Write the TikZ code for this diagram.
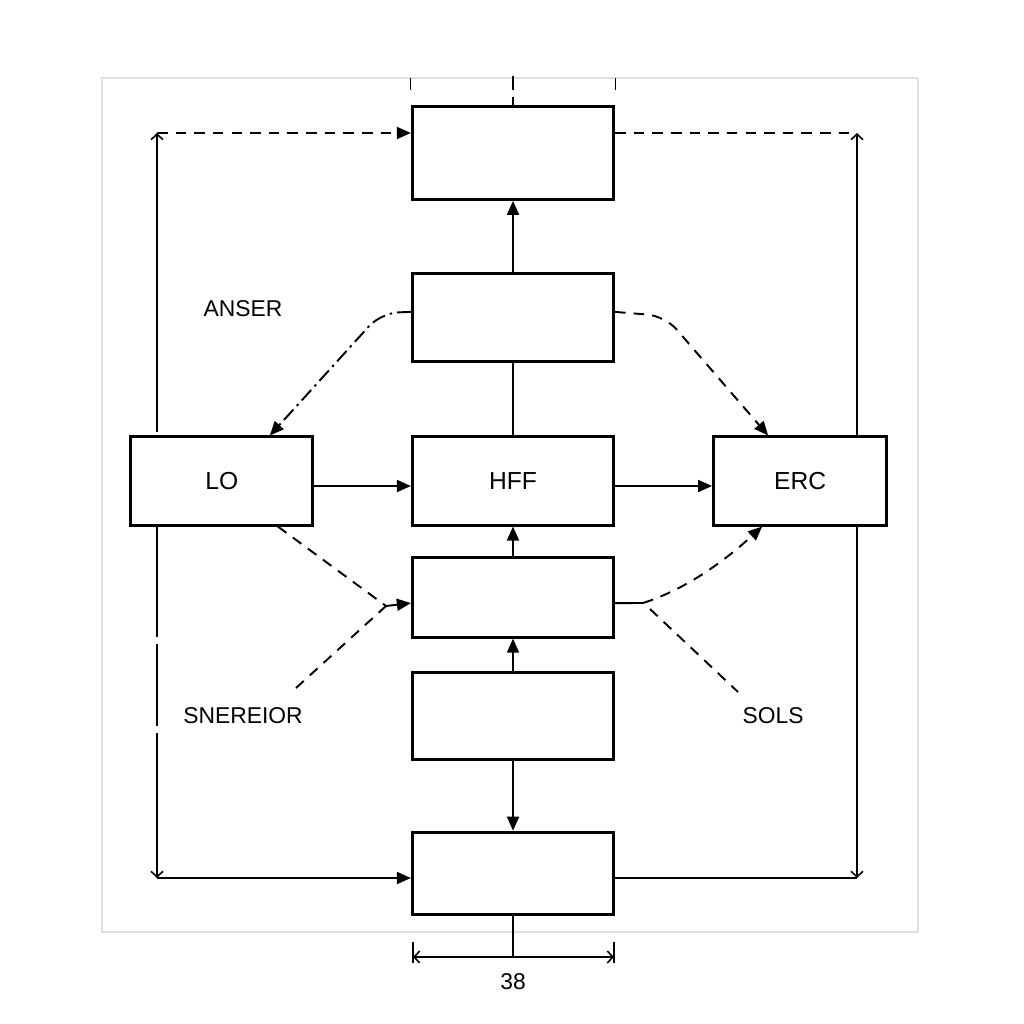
\documentclass[tikz,border=0pt]{standalone}
\usepackage{fontspec}
\setmainfont{Liberation Sans}
\usetikzlibrary{arrows.meta, positioning}
\tikzstyle{block}=[draw,fill=white,rectangle,line width=0.85pt,minimum width=2.01cm,minimum height=0.88cm,inner sep=0pt]
\tikzstyle{every node}=[font=\fontsize{7}{8}\selectfont]
\tikzstyle{lbl}=[font=\fontsize{6.5}{8}\selectfont]
\tikzstyle{conn}=[line width=0.55pt]
\tikzstyle{dsh}=[conn,dash pattern=on 3pt off 2.3pt]
\tikzstyle{dimline}=[line width=0.45pt,>={Straight Barb[length=1.6pt,width=3.4pt]}]

\begin{document}
\begin{tikzpicture}[x=0.01cm,y=-0.01cm,>={Triangle[length=4pt,width=3.4pt]}]
    \useasboundingbox (0,0) rectangle (1024,1024);
    \draw[gray!25,line width=0.4pt] (102,78) rectangle (918,932);
    % outer loop
    \coordinate (lt) at (157,133);
    \coordinate (lb) at (157,878);
    \coordinate (rt) at (857,133);
    \coordinate (rb) at (857,878);
    \draw[dimline,<->,dash pattern=on 2.97cm off 0.1cm on 1.95cm off 0.07cm on 0.82cm off 0.07cm on 1.6cm] (lt) -- (lb);
    \draw[dimline,<->] (rt) -- (rb);
    % blocks
    \node[block] (hff) at (513,481) {HFF};
    \node[block, above of=hff, node distance=1.63cm] (up) {};
    \node[block, above of=up, node distance=1.65cm, minimum height=0.93cm] (top) {};
    \node[block, left of=hff, node distance=2.91cm, minimum width=1.82cm] (lo) {LO};
    \node[block, right of=hff, node distance=2.87cm, minimum width=1.73cm] (erc) {ERC};
    \node[block, below of=hff, node distance=1.16cm, minimum height=0.80cm] (mid) {};
    \node[block, below of=mid, node distance=1.19cm, minimum height=0.87cm] (low) {};
    \node[block, below of=low, node distance=1.57cm, minimum height=0.82cm] (bot) {};
    \node[lbl] (anser) at (243,309) {ANSER};
    \node[lbl] (snr) at (243,716) {SNEREIOR};
    \node[lbl] (sols) at (773,716) {SOLS};
    \node[lbl] (dim) at (513,982) {38};
    % top ticks
    \draw[line width=0.3pt] (top.north west) ++(0,-15) -- ++(0,-12);
    \draw[line width=0.3pt] (top.north east) ++(0,-15) -- ++(0,-12);
    \draw[conn,dash pattern=on 0.08cm off 0.07cm on 0.2cm] (top.north) -- ++(0,-29);
    % loop connectors
    \draw[dsh,->] (lt) -- (lt -| top.west);
    \draw[dsh] (rt -| top.east) -- (rt);
    \draw[conn,->] (lb) -- (lb -| bot.west);
    \draw[conn] (lb -| bot.east) -- (rb);
    % main column
    \draw[conn,->] (up) -- (top);
    \draw[conn] (hff) -- (up);
    \draw[conn,->] (mid) -- (hff);
    \draw[conn,->] (low) -- (mid);
    \draw[conn,->] (low) -- (bot);
    \draw[conn,->] ([yshift=-.05cm]lo.east) -- ([yshift=-.05cm]hff.west);
    \draw[conn,->] ([yshift=-.05cm]hff.east) -- ([yshift=-.05cm]erc.west);
    % dashed links
    \draw[conn,dash pattern=on 4pt off 1.4pt on 0.7pt off 1.4pt,rounded corners=5pt,->] ([yshift=.06cm]up.west) -- (381,313) -- ([xshift=.48cm]lo.north);
    \draw[dsh,rounded corners=5pt,->] ([yshift=.06cm]up.east) -- (665,316) -- ([xshift=-.32cm]erc.north);
    \coordinate (mj) at (386,606);
    \coordinate (sw) at (296,688);
    \draw[dsh] ([xshift=.56cm]lo.south) -- (mj);
    \draw[dsh] (sw) -- (mj);
    \draw[conn,->] (mj) -- ([yshift=-.06cm]mid.west);
    \coordinate (mr) at (643,603);
    \coordinate (ms) at (650,609);
    \coordinate (se) at (738,692);
    \draw[conn] ([yshift=-.06cm]mid.east) -- (mr);
    \draw[dsh,->] (mr) .. controls (690,588) and (730,556) .. ([xshift=-.38cm]erc.south);
    \draw[dsh] (ms) -- (se);
    % dimension
    \coordinate (dl) at (413,957);
    \coordinate (dr) at (614,957);
    \draw[conn] (bot.south) -- (bot.south |- dl);
    \draw[dimline,<->] (dl) -- (dr);
    \draw[dimline] ([yshift=.15cm]dl) -- ([yshift=-.06cm]dl);
    \draw[dimline] ([yshift=.15cm]dr) -- ([yshift=-.06cm]dr);
\end{tikzpicture}
\end{document}
